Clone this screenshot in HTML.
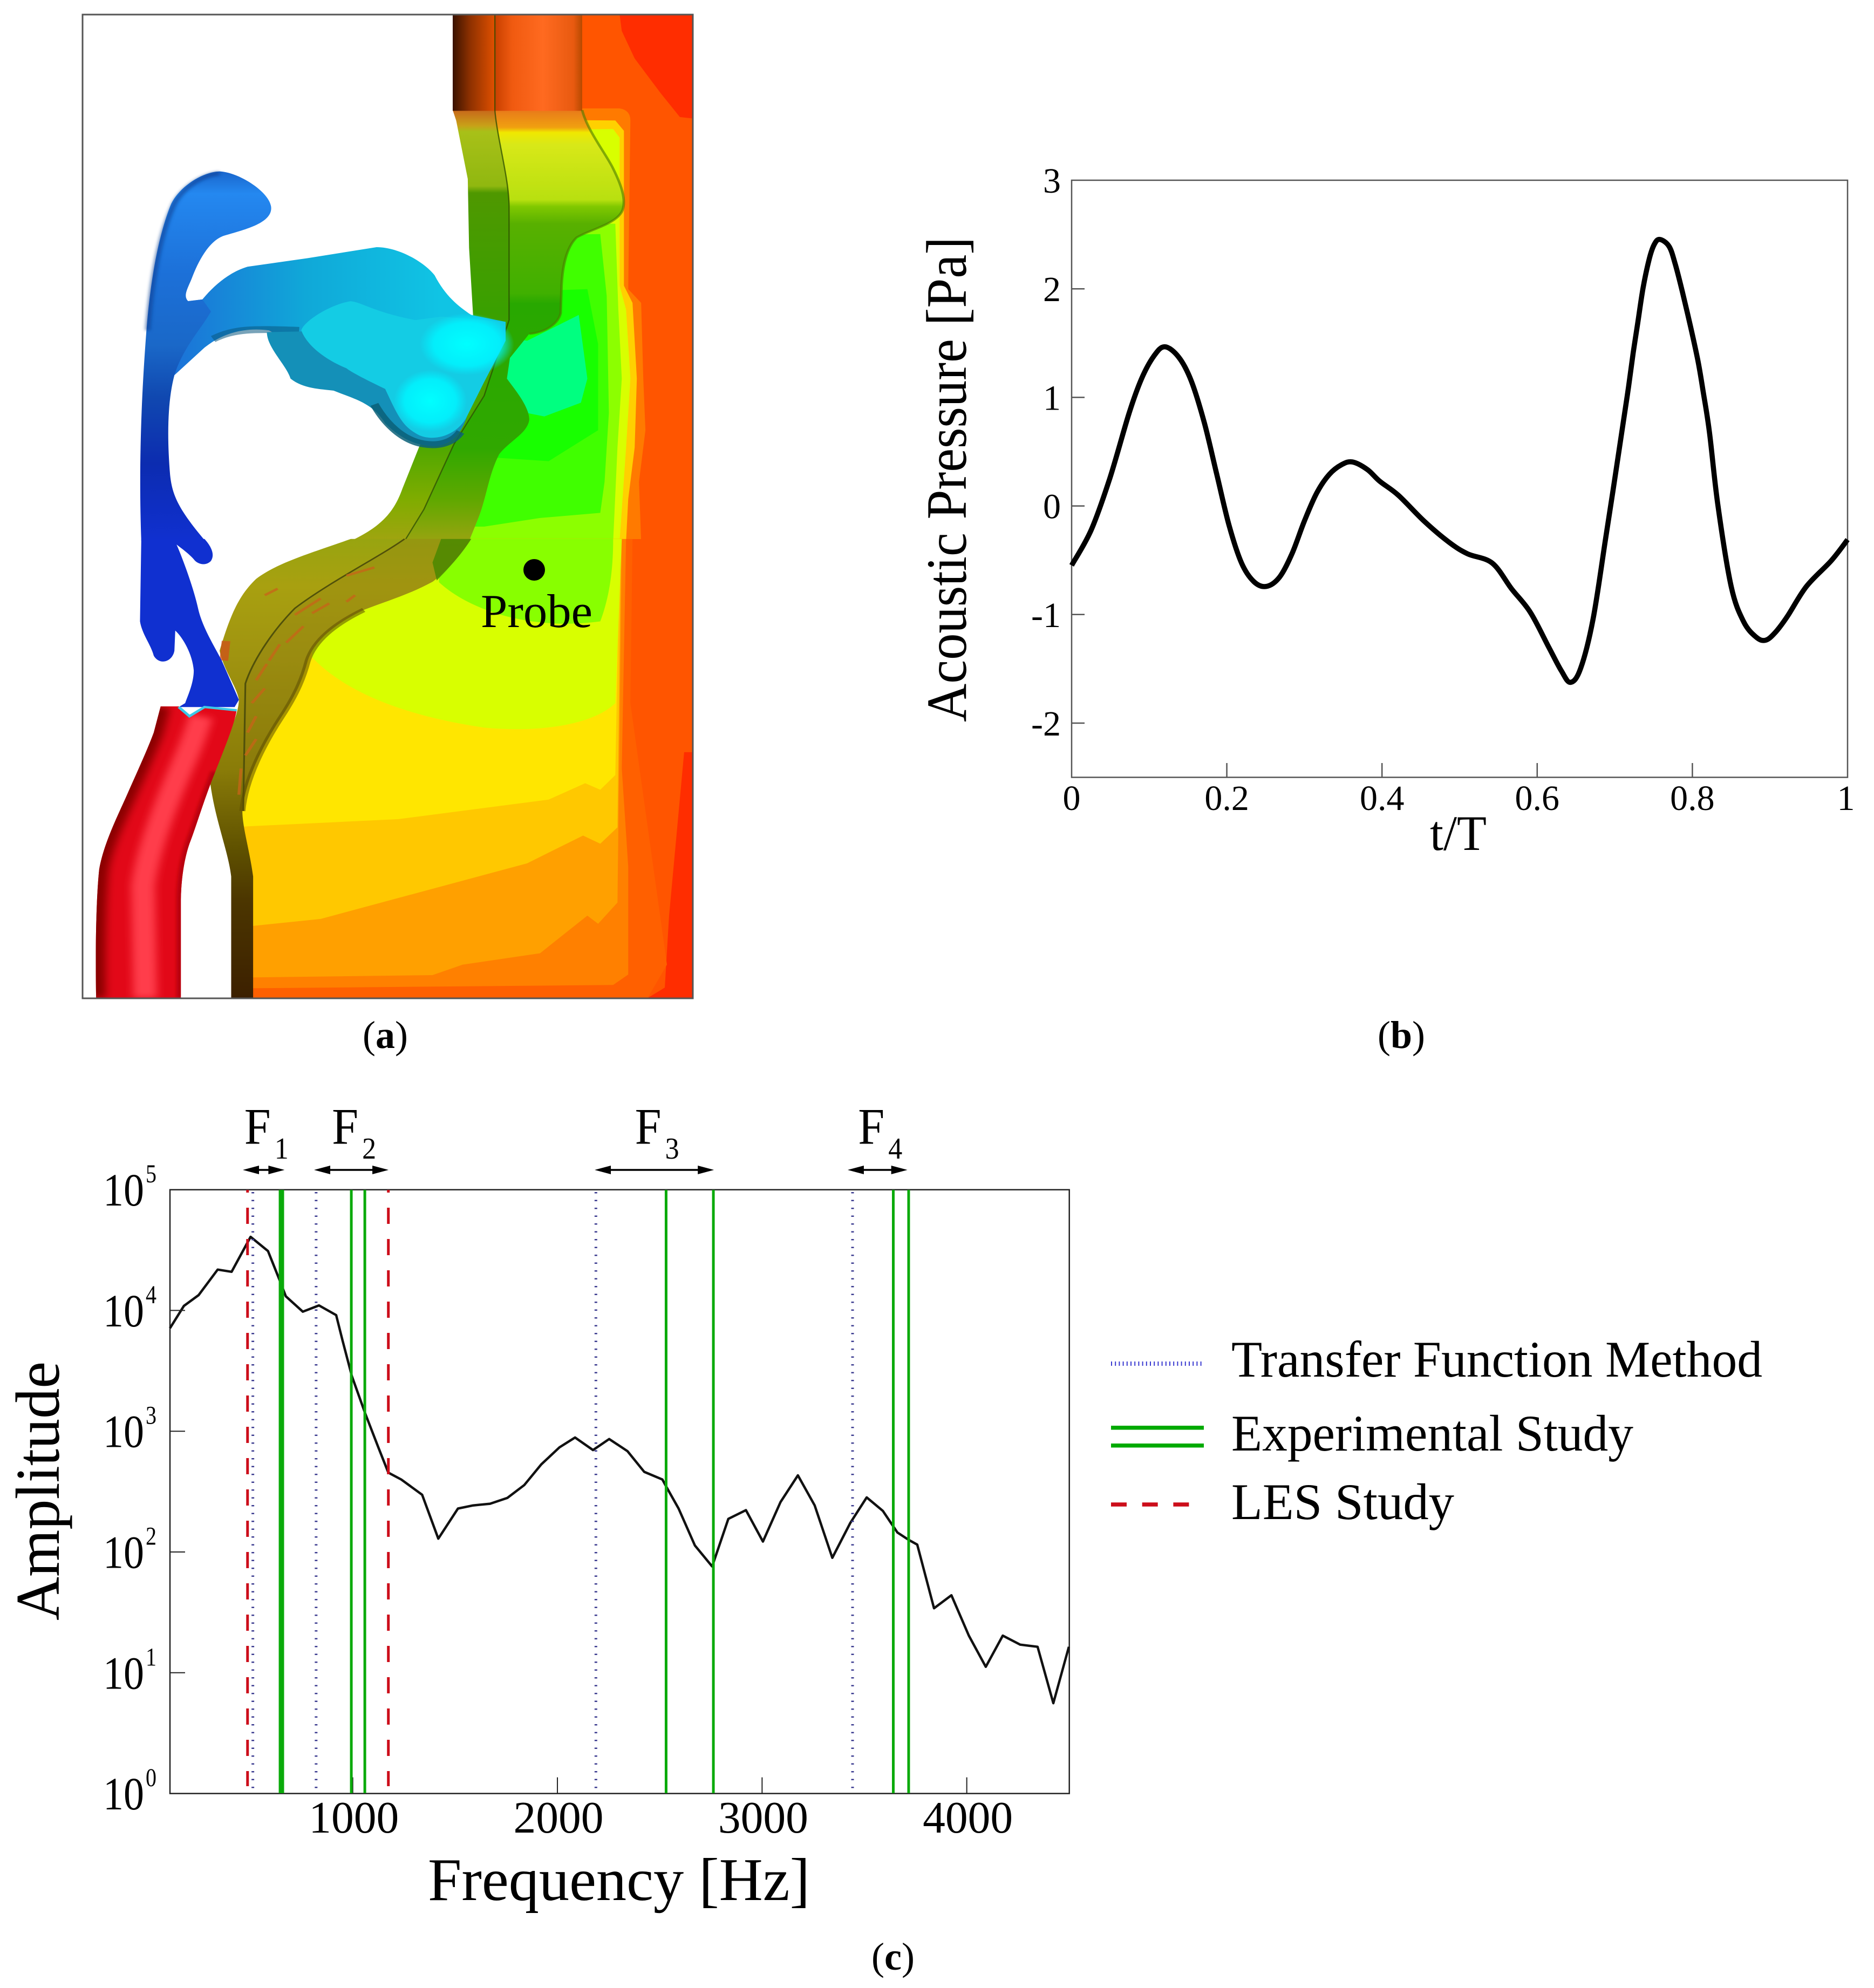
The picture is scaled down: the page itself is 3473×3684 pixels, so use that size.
<!DOCTYPE html>
<html lang="en">
<head>
<meta charset="utf-8">
<title>Flow field, acoustic pressure and spectrum</title>
<style>
html,body{margin:0;padding:0;background:#fff;}
svg{display:block;}
text{font-family:"Liberation Serif",serif;fill:#000;}
</style>
</head>
<body>
<svg id="fig" xmlns="http://www.w3.org/2000/svg" width="3473" height="3684" viewBox="0 0 3473 3684">
<defs>
<clipPath id="frameA"><rect x="153" y="27" width="1131" height="1823"/></clipPath>
<clipPath id="fieldUp"><path d="M1000,42 L1500,42 L1500,1572 L830,1572 L930,1400 L1000,1300Z"/></clipPath>
<clipPath id="fieldLow"><path d="M800,-2 L650,200 L470,340 L440,500 L420,730 L440,1000 L440,1402 L1500,1402 L1500,-2Z"/></clipPath>
<clipPath id="redClip"><path d="M248,510 L290,510 L315,540 L350,510 L425,520 C420,560 405,610 375,710 C350,790 330,880 315,930 C302,980 296,1040 295,1100 L295,1402 L98,1402 C96,1250 98,1100 105,1010 C115,930 150,840 170,780 C190,720 215,650 232,590Z"/></clipPath>
<filter id="blur4" x="-100%" y="-20%" width="300%" height="140%"><feGaussianBlur stdDeviation="4"/></filter>
<filter id="blur10" x="-100%" y="-20%" width="300%" height="140%"><feGaussianBlur stdDeviation="10"/></filter>
<linearGradient id="topL" gradientUnits="userSpaceOnUse" x1="927" y1="0" x2="1025" y2="0"><stop offset="0" stop-color="#3a1200"/><stop offset=".4" stop-color="#8c3000"/><stop offset="1" stop-color="#e05000"/></linearGradient>
<linearGradient id="topR" gradientUnits="userSpaceOnUse" x1="1025" y1="0" x2="1228" y2="0"><stop offset="0" stop-color="#c84000"/><stop offset=".2" stop-color="#f05a10"/><stop offset=".55" stop-color="#ff6a20"/><stop offset=".9" stop-color="#e85a10"/><stop offset="1" stop-color="#b84a00"/></linearGradient>
<linearGradient id="tubeL" gradientUnits="userSpaceOnUse" x1="0" y1="320" x2="0" y2="1572"><stop offset="0" stop-color="#c8681a"/><stop offset=".036" stop-color="#c8a018"/><stop offset=".05" stop-color="#a8c018"/><stop offset=".176" stop-color="#90b810"/><stop offset=".192" stop-color="#4f9800"/><stop offset=".465" stop-color="#3aa000"/><stop offset=".785" stop-color="#50a800"/><stop offset=".905" stop-color="#80ac00"/><stop offset="1" stop-color="#a0a410"/></linearGradient>
<linearGradient id="tubeR" gradientUnits="userSpaceOnUse" x1="0" y1="320" x2="0" y2="1572"><stop offset="0" stop-color="#e87a1a"/><stop offset=".04" stop-color="#f0a010"/><stop offset=".052" stop-color="#f0e800"/><stop offset=".08" stop-color="#d8e818"/><stop offset=".208" stop-color="#b8e010"/><stop offset=".224" stop-color="#80c800"/><stop offset=".264" stop-color="#58b000"/><stop offset=".425" stop-color="#40b000"/><stop offset=".449" stop-color="#28a800"/><stop offset=".785" stop-color="#30a800"/><stop offset=".905" stop-color="#60a800"/><stop offset="1" stop-color="#98a410"/></linearGradient>
<linearGradient id="tubeLow" gradientUnits="userSpaceOnUse" x1="0" y1="0" x2="0" y2="1402"><stop offset="0" stop-color="#98a410"/><stop offset=".1" stop-color="#a8a010"/><stop offset=".25" stop-color="#a09410"/><stop offset=".5" stop-color="#8a7c08"/><stop offset=".68" stop-color="#5e5000"/><stop offset=".785" stop-color="#4c3600"/><stop offset="1" stop-color="#3c2000"/></linearGradient>
<linearGradient id="stem" gradientUnits="userSpaceOnUse" x1="0" y1="498" x2="0" y2="1572"><stop offset="0" stop-color="#1a66cc"/><stop offset=".06" stop-color="#2488f0"/><stop offset=".28" stop-color="#1c70d8"/><stop offset=".47" stop-color="#1a68c8"/><stop offset=".61" stop-color="#1048b0"/><stop offset=".79" stop-color="#0c2cb0"/><stop offset="1" stop-color="#1030d0"/></linearGradient>
<linearGradient id="branch" gradientUnits="userSpaceOnUse" x1="270" y1="0" x2="900" y2="0"><stop offset="0" stop-color="#1c70d8"/><stop offset=".5" stop-color="#10a8d8"/><stop offset="1" stop-color="#10c4e4"/></linearGradient>
<radialGradient id="glow"><stop offset="0" stop-color="#00ffff"/><stop offset=".7" stop-color="#00f4ff" stop-opacity=".85"/><stop offset="1" stop-color="#00f0ff" stop-opacity="0"/></radialGradient>
</defs>

<g id="panel-a" clip-path="url(#frameA)">
  <g transform="translate(100,0) scale(.7972,.6378)" clip-path="url(#fieldUp)">
    <rect x="800" y="42" width="700" height="1530" fill="#ff5500"/>
    <path d="M1315,42 L1490,42 L1490,345 L1455,340 L1410,270 L1350,170 L1320,90Z" fill="#ff2d00"/>
    <path d="M800,315 L1315,315 Q1340,320 1340,350 L1335,840 L1365,880 L1370,1100 L1375,1250 L1360,1400 L1365,1572 L800,1572Z" fill="#ff7a00"/>
    <path d="M800,345 L1305,350 L1325,380 L1325,830 L1345,880 L1355,1100 L1350,1300 L1335,1450 L1330,1572 L800,1572Z" fill="#ffd000"/>
    <path d="M800,380 L1300,375 L1315,400 L1315,830 L1330,900 L1340,1100 L1330,1300 L1315,1572 L800,1572Z" fill="#d8ff00"/>
    <path d="M800,640 L1305,650 L1312,900 L1320,1100 L1310,1300 L1300,1572 L800,1572Z" fill="#8cff00"/>
    <path d="M800,690 L1270,680 L1285,860 L1290,1200 L1280,1400 L1270,1490 L1130,1505 L1000,1530 L800,1530Z" fill="#40ff00"/>
    <path d="M800,860 L1240,840 L1265,1000 L1265,1250 L1150,1340 L1030,1330 L800,1330Z" fill="#18ff00"/>
    <path d="M1040,980 L1100,990 L1220,915 L1240,1100 L1225,1170 L1140,1210 L1100,1200 L1040,1100Z" fill="#00ff80"/>
  </g>
  <g transform="translate(100,1000) scale(.7972,.6059)" clip-path="url(#fieldLow)">
    <rect x="400" y="-2" width="1100" height="1405" fill="#ff5500"/>
    <path d="M1465,650 L1490,650 L1490,1402 L1380,1402 L1420,1370 L1430,1150Z" fill="#ff2d00"/>
    <path d="M400,-2 L1345,-2 L1340,500 L1425,1300 L1380,1402 L400,1402Z" fill="#ff6000"/>
    <path d="M400,-2 L1330,-2 L1320,700 L1335,1000 L1335,1330 L1300,1362 L470,1372 L400,1372Z" fill="#ff8000"/>
    <path d="M400,1340 L880,1332 L950,1300 L1130,1265 L1240,1150 L1265,1175 L1310,1110 L1320,-2 L400,-2Z" fill="#ffa000"/>
    <path d="M400,1190 L620,1160 L1100,990 L1230,905 L1270,930 L1310,880 L1318,-2 L400,-2Z" fill="#ffc800"/>
    <path d="M400,880 L800,855 L1150,795 L1235,745 L1270,765 L1305,720 L1315,-2 L400,-2Z" fill="#ffe600"/>
    <path d="M600,360 C680,470 820,540 1000,575 C1120,590 1250,570 1305,500 L1320,-2 L600,-2Z" fill="#d8ff00"/>
    <path d="M895,130 C960,210 1100,280 1270,250 C1290,180 1300,100 1300,-2 L895,-2Z" fill="#88ff00"/>
  </g>

  <g transform="translate(100,0) scale(.7972,.6378)">
    <path d="M1025,320 L1228,320 C1240,380 1285,450 1300,490 C1320,540 1330,580 1322,610 C1310,650 1250,665 1215,690 C1190,720 1182,780 1180,830 L1178,910 C1170,950 1130,968 1105,970 L1060,1040 L1053,1100 C1070,1130 1105,1180 1105,1220 C1100,1260 1060,1280 1035,1320 C1010,1380 1005,1450 985,1510 L965,1572 L815,1572 L860,1480 L930,1290 L1000,1150 L1058,930 L1058,600 C1058,520 1030,400 1025,320Z" fill="url(#tubeR)"/>
    <path d="M927,320 L1025,320 C1030,400 1058,520 1058,600 L1058,930 L1000,1150 L930,1290 L860,1480 L815,1572 L690,1572 C760,1530 790,1490 810,1420 L850,1295 L950,1100 L975,930 L965,720 L962,520 L935,350Z" fill="url(#tubeL)"/>
    <rect x="927" y="42" width="98" height="280" fill="url(#topL)"/>
    <rect x="1025" y="42" width="203" height="280" fill="url(#topR)"/>
    <path d="M1025,42 L1025,320 C1030,400 1058,520 1058,600 L1058,930 L1000,1150 L930,1290 L860,1480 L815,1572" fill="none" stroke="#2a4a00" stroke-width="3" opacity=".75"/>
    <path d="M1228,320 C1240,380 1285,450 1300,490 C1320,540 1330,580 1322,610 C1310,650 1250,665 1215,690 C1190,720 1182,780 1180,830 L1178,910 C1170,950 1130,968 1105,970" fill="none" stroke="#4a7a00" stroke-width="6" opacity=".6"/>
  </g>
  <g transform="translate(100,1000) scale(.7972,.6059)">
    <path d="M690,-2 C600,40 520,70 470,120 C430,170 410,230 385,340 C395,400 425,450 430,490 C428,560 380,650 362,730 C372,850 405,950 412,1030 L412,1402 L463,1402 L463,1030 C455,950 438,880 438,830 C445,730 490,620 530,540 C565,470 580,420 590,370 C605,310 650,260 720,215 C780,185 830,165 880,129 C900,110 940,60 970,-2Z" fill="url(#tubeLow)"/>
    <path d="M815,-2 C760,50 640,130 560,210 C500,290 460,380 445,440 L440,830 L438,830 C445,730 490,620 530,540 C565,470 580,420 590,370 C605,310 650,260 720,215 C780,185 830,165 880,129 C900,110 940,60 970,-2Z" fill="#907c10" opacity=".3"/>
    <path d="M900,-2 L970,-2 C940,60 900,110 890,125 L880,70Z" fill="#4a8800" opacity=".85"/>
    <path d="M815,-2 C760,50 640,130 560,210 C500,290 460,380 445,440 L440,830" fill="none" stroke="#50500a" stroke-width="4"/>
    <path d="M720,215 C650,260 605,310 590,370 C580,420 565,470 530,540 C490,620 445,730 438,830" fill="none" stroke="#5c4c00" stroke-width="14" opacity=".55"/>
    <g fill="none" stroke="#c86418" stroke-width="7" opacity=".75">
      <path d="M680,110 L745,85"/><path d="M620,180 L560,230"/><path d="M640,195 L600,225"/><path d="M580,265 L540,315"/><path d="M525,320 L500,370"/><path d="M495,380 L470,430"/><path d="M490,455 L460,500"/><path d="M470,540 L450,590"/><path d="M470,610 L445,660"/><path d="M435,700 L430,780"/><path d="M520,150 L490,170"/><path d="M700,170 L680,190"/>
      <path d="M400,310 L395,370" stroke="#d0501a" stroke-width="20"/>
    </g>
  </g>

  <g transform="translate(100,0) scale(.7972,.6378)">
    <path d="M310,875 L345,870 C375,825 410,790 450,775 L590,750 L750,718 C800,718 860,760 885,800 C910,860 940,890 970,915 L1050,935 L1000,1010 L570,1010 L500,960 C440,950 390,970 350,1010 L280,1090 L260,1000Z" fill="url(#branch)"/>
    <path d="M370,985 C420,955 460,955 570,960" fill="none" stroke="#0a5880" stroke-width="20" opacity=".55"/>
    <path d="M203,1572 C198,1400 200,1200 215,960 C225,800 245,680 270,600 C285,550 340,500 385,498 C430,500 505,560 505,605 C505,650 440,668 395,685 C360,700 335,760 320,810 C310,840 300,860 312,875 L345,870 L365,905 C340,960 300,1010 280,1090 C265,1160 262,1260 270,1380 C275,1440 290,1480 352,1572Z" fill="url(#stem)"/>
    <path d="M218,960 C228,800 248,680 275,605 C290,555 340,508 385,504" fill="none" stroke="#0a3c90" stroke-width="12" opacity=".6" filter="url(#blur4)"/>
    <path d="M495,965 C495,1010 540,1060 550,1100 C580,1130 620,1130 650,1135 C700,1160 740,1170 770,1230 C810,1280 850,1298 890,1296 C930,1290 950,1250 960,1210 L700,960Z" fill="#1490b8"/>
    <path d="M745,1175 C770,1230 810,1280 860,1290 C890,1296 925,1290 945,1255" fill="none" stroke="#0a6078" stroke-width="20" opacity=".85"/>
    <path d="M575,960 C580,935 640,885 690,875 C720,880 740,905 840,930 L900,920 L1050,935 L1050,990 L1000,1110 L960,1210 C940,1260 890,1285 850,1265 C810,1240 800,1210 770,1130 C720,1100 690,1080 680,1070 C640,1050 590,1010 575,960Z" fill="#14cce4"/>
    <ellipse cx="875" cy="1165" rx="85" ry="90" fill="url(#glow)"/>
    <ellipse cx="960" cy="1000" rx="110" ry="90" fill="url(#glow)"/>
  </g>
  <g transform="translate(100,1000) scale(.7972,.6059)">
    <path d="M203,-2 L350,-2 C365,20 375,45 365,65 C355,80 335,78 325,60 C315,45 300,30 285,15 C300,60 325,150 335,210 C345,270 375,330 390,370 L430,490 L420,512 L290,512 L305,500 C310,480 325,440 325,400 C322,350 300,300 282,278 L280,340 C275,375 245,385 232,355 C225,320 205,290 200,250Z" fill="#1030d0"/>
    <g clip-path="url(#redClip)">
      <rect x="80" y="500" width="360" height="910" fill="#e20818"/>
      <path d="M98,1402 C96,1250 98,1100 105,1010 C115,930 150,840 170,780 C190,720 215,650 232,590 L248,510" fill="none" stroke="#8a0006" stroke-width="44" filter="url(#blur10)"/>
      <path d="M212,1402 L207,1060 C217,950 262,800 302,680 C322,620 332,580 342,540" fill="none" stroke="#ff3c4c" stroke-width="55" filter="url(#blur10)"/>
      <path d="M295,1402 L295,1100 C296,1040 302,980 315,930 C330,880 350,790 375,710" fill="none" stroke="#b80010" stroke-width="20" filter="url(#blur4)"/>
    </g>
    <path d="M290,512 L315,540 L350,512 L425,522" fill="none" stroke="#3cc8e8" stroke-width="7"/>
  </g>
</g>

<rect x="153" y="27" width="1131" height="1823" fill="none" stroke="#555" stroke-width="3"/>
<ellipse cx="990" cy="1056" rx="20" ry="20" fill="#000"/>
<text x="891" y="1162" font-size="88" textLength="207" lengthAdjust="spacingAndGlyphs">Probe</text>
<text x="714" y="1942" font-size="72" text-anchor="middle">(<tspan font-weight="bold">a</tspan>)</text>
<text x="2597" y="1942" font-size="72" text-anchor="middle">(<tspan font-weight="bold">b</tspan>)</text>
<text x="1655" y="3650" font-size="72" text-anchor="middle">(<tspan font-weight="bold">c</tspan>)</text>

<g id="chartB">
  <rect x="1986" y="334" width="1438" height="1106.5" fill="none" stroke="#555" stroke-width="2.5"/>
  <text transform="translate(1790,1338) rotate(-90)" font-size="106" textLength="899" lengthAdjust="spacingAndGlyphs">Acoustic Pressure [Pa]</text>
  <text x="2650" y="1575" font-size="92" textLength="105" lengthAdjust="spacingAndGlyphs">t/T</text>
</g>

<g id="chartC">
  <text transform="translate(109,3003) rotate(-90)" font-size="116" textLength="480" lengthAdjust="spacingAndGlyphs">Amplitude</text>
  <text x="793" y="3521" font-size="112" textLength="708" lengthAdjust="spacingAndGlyphs">Frequency [Hz]</text>
</g>

<g id="legend">
  <line x1="2059" y1="2527" x2="2228" y2="2527" stroke="#3a3ad0" stroke-width="8" stroke-dasharray="2 5.2"/>
  <text x="2282" y="2551" font-size="95" textLength="984" lengthAdjust="spacingAndGlyphs">Transfer Function Method</text>
  <rect x="2059" y="2642" width="172" height="7.5" fill="#00aa00"/>
  <rect x="2059" y="2675" width="172" height="7.5" fill="#00aa00"/>
  <text x="2282" y="2688" font-size="95" textLength="745" lengthAdjust="spacingAndGlyphs">Experimental Study</text>
  <line x1="2059" y1="2788" x2="2204" y2="2788" stroke="#cc0d1a" stroke-width="7.5" stroke-dasharray="29 28.7"/>
  <text x="2282" y="2815" font-size="95" textLength="413" lengthAdjust="spacingAndGlyphs">LES Study</text>
</g>
</svg>

<script>
// ---- Panel (b): acoustic pressure ----
const pressureTime = [0,.025,.049,.074,.090,.106,.120,.138,.154,.171,.187,.203,.219,.235,.251,.268,.284,.300,.316,.332,.348,.362,.381,.397,.421,.454,.486,.510,.542,.567,.591,.615,.631,.643,.656,.672,.688,.700,.7107,.7178,.7237,.7295,.7365,.7446,.751,.758,.770,.778,.787,.7977,.8074,.814,.822,.833,.850,.866,.882,.894,.906,.922,.947,.979,1];
const pressureValues = [-.547,-.224,.25,.853,1.17,1.38,1.466,1.371,1.155,.767,.293,-.181,-.526,-.698,-.741,-.655,-.44,-.138,.121,.29,.38,.405,.336,.228,.099,-.138,-.332,-.44,-.526,-.763,-.978,-1.302,-1.517,-1.625,-1.496,-1.043,-.31,.25,.76,1.10,1.41,1.68,2.01,2.28,2.41,2.455,2.39,2.225,1.976,1.65,1.33,1.05,.68,0,-.741,-1.065,-1.207,-1.237,-1.172,-1.022,-.741,-.504,-.31];
const pressureXTicks = [0,.2,.4,.6,.8,1];
const pressureXLabels = ["0","0.2","0.4","0.6","0.8","1"];
const pressureYTicks = [3,2,1,0,-1,-2];
const pressureYLabels = ["3","2","1","0","-1","-2"];

// ---- Panel (c): spectrum ----
const spectrumFreq = [107,175,247,340,408,501,586,645,673,756,835,919,950,996,1061,1126,1174,1237,1339,1418,1514,1588,1671,1755,1838,1921,2010,2086,2174,2253,2342,2424,2513,2531,2592,2672,2756,2835,2921,3004,3090,3175,3257,3343,3431,3511,3590,3661,3716,3758,3840,3925,4010,4093,4176,4261,4346,4423,4499];
const spectrumAmp = [7130,10900,13400,21800,20900,40700,31000,17400,13100,9770,11000,9140,5640,2850,1400,728,454,398,298,129,229,243,251,280,358,531,735,887,698,861,684,461,398,349,229,113,75.9,188,222,122,259,431,243,89.5,174,283,219,145,126,115,34.2,43.8,20.3,11.2,20.3,17.1,16.4,5.6,16.4];
const transferFreqs = [512,821,2188,3442];
const experimentFreqs = [645,658,993,1059,2531,2762,3641,3716];
const lesFreqs = [486,1174];
const spectrumXTicks = [1000,2000,3000,4000];
const spectrumExponents = [5,4,3,2,1,0];
const bandNames = ["1","2","3","4"];
const bandStart = [463,811,2182,3418];
const bandEnd = [667,1175,2765,3710];

const NS = "http://www.w3.org/2000/svg";
function mk(parent, tag, attrs, txt) {
  const el = document.createElementNS(NS, tag);
  for (const k in attrs) el.setAttribute(k, attrs[k]);
  if (txt !== undefined) el.textContent = txt;
  parent.appendChild(el);
  return el;
}

// axis functions, panel b
const bx = t => 1986 + t * 1438;
const by = v => 334 + (3 - v) * 201.2;
// axis functions, panel c
const cx = f => 315 + (f - 107) * (1666.7 / 4394);
const cy = a => 3323.6 - Math.log10(a) * 223.8;

const chartB = document.getElementById("chartB");
const chartC = document.getElementById("chartC");

// panel b ticks + labels
pressureXTicks.forEach((t, i) => {
  if (t > 0 && t < 1) {
    const tk = mk(chartB, "line", {x1: bx(t), x2: bx(t), y1: 1440, y2: 1414, stroke: "#555", "stroke-width": 2.5});
    
    
  }
  const lb = mk(chartB, "text", {x: bx(t) - (t === 1 ? 3 : 0), y: 1501, "font-size": 66, "text-anchor": "middle"}, pressureXLabels[i]);
  
  
});
pressureYTicks.forEach((v, i) => {
  if (v !== 3) {
    const tk = mk(chartB, "line", {x1: 1986, x2: 2010, y1: by(v), y2: by(v), stroke: "#555", "stroke-width": 2.5});
    
    
  }
  const lb = mk(chartB, "text", {x: 1966, y: by(v) + 23, "font-size": 66, "text-anchor": "end"}, pressureYLabels[i]);
  
  
});

// panel b curve (Catmull-Rom through the data)
const pts = pressureTime.map((t, i) => [bx(t), by(pressureValues[i])]);
let dB = "M" + pts[0][0].toFixed(1) + "," + pts[0][1].toFixed(1);
for (let i = 0; i < pts.length - 1; i++) {
  const p0 = pts[Math.max(i - 1, 0)], p1 = pts[i], p2 = pts[i + 1], p3 = pts[Math.min(i + 2, pts.length - 1)];
  const c1x = p1[0] + (p2[0] - p0[0]) / 6, c1y = p1[1] + (p2[1] - p0[1]) / 6;
  const c2x = p2[0] - (p3[0] - p1[0]) / 6, c2y = p2[1] - (p3[1] - p1[1]) / 6;
  dB += "C" + c1x.toFixed(1) + "," + c1y.toFixed(1) + " " + c2x.toFixed(1) + "," + c2y.toFixed(1) + " " + p2[0].toFixed(1) + "," + p2[1].toFixed(1);
}
const curveB = mk(chartB, "path", {d: dB, fill: "none", stroke: "#000", "stroke-width": 9.5, "stroke-linejoin": "round"});



// panel c frame
const frameC = mk(chartC, "rect", {x: 315, y: 2204.7, width: 1666.7, height: 1118.9, fill: "none", stroke: "#222", "stroke-width": 2.5});



// panel c spectrum line
const curveC = mk(chartC, "polyline", {points: spectrumFreq.map((f, i) => cx(f).toFixed(1) + "," + cy(spectrumAmp[i]).toFixed(1)).join(" "), fill: "none", stroke: "#111", "stroke-width": 4.5, "stroke-linejoin": "round"});



// panel c ticks + labels
spectrumXTicks.forEach(f => {
  const tk = mk(chartC, "line", {x1: cx(f), x2: cx(f), y1: 3323.6, y2: 3293.6, stroke: "#222", "stroke-width": 2});
  
  
  const lb = mk(chartC, "text", {x: cx(f) + 2, y: 3396, "font-size": 84, "text-anchor": "middle", textLength: 167, lengthAdjust: "spacingAndGlyphs"}, String(f));
  
  
});
spectrumExponents.forEach(e => {
  const y = cy(Math.pow(10, e));
  if (e > 0 && e < 5) {
    const tk = mk(chartC, "line", {x1: 315, x2: 343, y1: y, y2: y, stroke: "#222", "stroke-width": 2});
    
    
  }
  const lb = mk(chartC, "text", {x: 191, y: y + 29.5, "font-size": 86, textLength: 76, lengthAdjust: "spacingAndGlyphs"}, "10");
  
  
  const sup = mk(chartC, "text", {x: 270, y: y - 13.5, "font-size": 48, textLength: 20, lengthAdjust: "spacingAndGlyphs"}, String(e));
  
  
});

// panel c vertical reference lines
transferFreqs.forEach(f => {
  const ln = mk(chartC, "line", {x1: cx(f), x2: cx(f), y1: 2209, y2: 3316, stroke: "#3c3c90", "stroke-width": 5, "stroke-dasharray": "2.5 12"});
  
  
});
experimentFreqs.forEach(f => {
  const ln = mk(chartC, "line", {x1: cx(f), x2: cx(f), y1: 2205, y2: 3323, stroke: "#0aaa0a", "stroke-width": 5});
  
  
});
lesFreqs.forEach(f => {
  const ln = mk(chartC, "line", {x1: cx(f), x2: cx(f), y1: 2205, y2: 3310, stroke: "#cc0d1a", "stroke-width": 5, "stroke-dasharray": "30 28", "stroke-dashoffset": 25});
  
  
});

// formant bands
bandNames.forEach((n, i) => {
  const x1 = cx(bandStart[i]), x2 = cx(bandEnd[i]), mid = (x1 + x2) / 2, y = 2168;
  const ln = mk(chartC, "line", {x1: x1 + 20, x2: x2 - 20, y1: y, y2: y, stroke: "#000", "stroke-width": 3.5});
  
  
  const hl = mk(chartC, "polygon", {points: x1 + "," + y + " " + (x1 + 30) + "," + (y - 8) + " " + (x1 + 30) + "," + (y + 8), fill: "#000"});
  
  
  const hr = mk(chartC, "polygon", {points: x2 + "," + y + " " + (x2 - 30) + "," + (y - 8) + " " + (x2 - 30) + "," + (y + 8), fill: "#000"});
  
  
  const f = mk(chartC, "text", {x: mid - 36, y: 2119.5, "font-size": 95, textLength: 49, lengthAdjust: "spacingAndGlyphs"}, "F");
  
  
  const s = mk(chartC, "text", {x: mid + 20, y: 2147, "font-size": 56, textLength: 26, lengthAdjust: "spacingAndGlyphs"}, n);
  
  
});
</script>
</body>
</html>
